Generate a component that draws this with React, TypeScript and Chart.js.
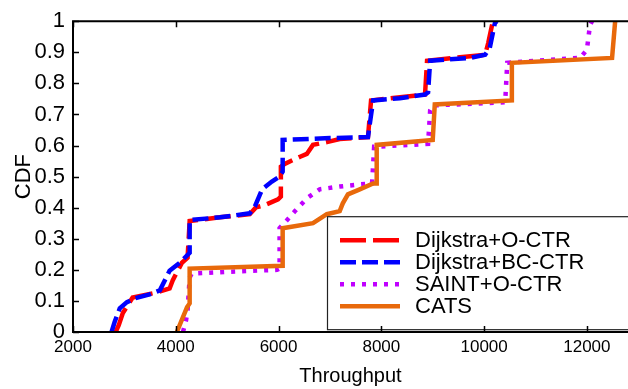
import React, { useEffect, useRef } from "react";
import { Chart, registerables } from "chart.js";

Chart.register(...registerables);

const xTicks = [2000, 4000, 6000, 8000, 10000, 12000];
const yTicks = [0, 0.1, 0.2, 0.3, 0.4, 0.5, 0.6, 0.7, 0.8, 0.9, 1];
const xMin = 2000;
const xMax = 12800;

const seriesLabels = ["Dijkstra+O-CTR", "Dijkstra+BC-CTR", "SAINT+O-CTR", "CATS"];

const redX = [2830, 2890, 2970, 3160, 3630, 3880, 3940, 4120, 4230, 4270, 4860, 5440, 5560, 5730, 5990, 6045, 6045, 6120, 6420, 6550, 6670, 6940, 7190, 7740, 7800, 8850, 8890, 10020, 10080, 10170];
const redY = [0, 0.022, 0.061, 0.111, 0.127, 0.14, 0.166, 0.223, 0.239, 0.357, 0.369, 0.379, 0.401, 0.408, 0.427, 0.436, 0.532, 0.541, 0.564, 0.573, 0.602, 0.611, 0.621, 0.627, 0.745, 0.764, 0.873, 0.892, 0.93, 1];

const blueX = [2750, 2810, 2910, 3050, 3200, 3490, 3690, 3880, 4080, 4270, 4270, 4860, 5440, 5540, 5680, 5870, 6020, 6080, 6080, 7000, 7740, 7840, 8360, 8850, 8910, 8950, 9720, 10020, 10110, 10210, 10250];
const blueY = [0, 0.032, 0.076, 0.096, 0.108, 0.121, 0.134, 0.197, 0.223, 0.255, 0.36, 0.369, 0.382, 0.404, 0.459, 0.484, 0.5, 0.516, 0.618, 0.624, 0.627, 0.745, 0.752, 0.764, 0.771, 0.873, 0.882, 0.892, 0.914, 0.994, 1];

const purpleX = [4140, 4200, 4230, 4270, 4310, 5050, 5970, 6020, 6020, 6180, 6320, 6550, 6800, 7190, 7580, 7820, 7860, 8910, 8950, 9000, 10410, 10450, 11870, 12000, 12060, 12100];
const purpleY = [0, 0.038, 0.07, 0.175, 0.188, 0.194, 0.2, 0.204, 0.334, 0.363, 0.389, 0.43, 0.459, 0.468, 0.475, 0.478, 0.596, 0.605, 0.713, 0.729, 0.739, 0.866, 0.882, 0.908, 0.987, 1];

const orangeX = [4020, 4220, 4270, 4270, 6080, 6080, 6670, 6940, 7190, 7250, 7350, 7580, 7840, 7910, 7910, 9000, 9040, 10540, 10540, 12490, 12550];
const orangeY = [0, 0.08, 0.092, 0.204, 0.213, 0.334, 0.35, 0.379, 0.389, 0.414, 0.443, 0.459, 0.478, 0.478, 0.602, 0.618, 0.732, 0.745, 0.866, 0.882, 1];

const FONT = "'Liberation Sans', Arial, Helvetica, sans-serif";

const styles = [
  { color: "#ff0000", dash: [26, 7], width: 4.5 },
  { color: "#0000ff", dash: [16, 6], width: 4.5 },
  { color: "#c000ff", dash: [4, 7], width: 4.5 },
  { color: "#e8690b", dash: [] as number[], width: 4.5 },
];

const toPoints = (xs: number[], ys: number[]) => xs.map((x, i) => ({ x, y: ys[i] }));

const framePlugin = {
  id: "frameAndLegend",
  afterDatasetsDraw(chart: any) {
    const { ctx, chartArea: a } = chart;
    ctx.save();
    const bx = a.left + 254;
    const by = a.top + 195;
    const bw = a.right - bx + 5;
    const bh = 113;
    ctx.fillStyle = "#ffffff";
    ctx.fillRect(bx, by, bw, bh);
    ctx.strokeStyle = "#222222";
    ctx.lineWidth = 1.2;
    ctx.strokeRect(bx + 0.5, by + 0.5, bw, bh);
    const rowY0 = by + 24;
    const rowH = 22;
    chart.data.datasets.forEach((ds: any, i: number) => {
      const y = rowY0 + i * rowH;
      ctx.beginPath();
      ctx.setLineDash(ds.borderDash || []);
      ctx.lineCap = "butt";
      ctx.strokeStyle = ds.borderColor;
      ctx.lineWidth = ds.borderWidth;
      ctx.moveTo(bx + 13, y);
      ctx.lineTo(bx + 73, y);
      ctx.stroke();
      ctx.setLineDash([]);
      ctx.fillStyle = "#000000";
      ctx.font = `22px ${FONT}`;
      ctx.textAlign = "left";
      ctx.textBaseline = "middle";
      ctx.fillText(ds.label, bx + 88, y + 1);
    });
    ctx.restore();
  },
  afterDraw(chart: any) {
    const { ctx, chartArea: a, scales } = chart;
    ctx.save();
    ctx.strokeStyle = "#000000";
    ctx.lineWidth = 2;
    ctx.setLineDash([]);
    ctx.beginPath();
    ctx.moveTo(a.right + 2, a.top);
    ctx.lineTo(a.left, a.top);
    ctx.lineTo(a.left, a.bottom);
    ctx.lineTo(a.right + 2, a.bottom);
    ctx.stroke();
    ctx.lineWidth = 1.5;
    ctx.beginPath();
    xTicks.forEach((v) => {
      const px = Math.round(scales.x.getPixelForValue(v)) + 0.5;
      ctx.moveTo(px, a.bottom);
      ctx.lineTo(px, a.bottom - 6);
      ctx.moveTo(px, a.top);
      ctx.lineTo(px, a.top + 6);
    });
    yTicks.forEach((v) => {
      const py = Math.round(scales.y.getPixelForValue(v)) + 0.5;
      ctx.moveTo(a.left, py);
      ctx.lineTo(a.left + 6, py);
    });
    ctx.stroke();
    ctx.restore();
  },
};

export default function App() {
  const ref = useRef<HTMLCanvasElement>(null);
  useEffect(() => {
    document.body.style.margin = "0";
    const allX = [redX, blueX, purpleX, orangeX];
    const allY = [redY, blueY, purpleY, orangeY];
    const chart = new Chart(ref.current as HTMLCanvasElement, {
      type: "line",
      data: {
        datasets: seriesLabels.map((label, i) => ({
          label,
          data: toPoints(allX[i], allY[i]),
          borderColor: styles[i].color,
          backgroundColor: styles[i].color,
          borderWidth: styles[i].width,
          borderDash: styles[i].dash,
          borderCapStyle: "butt",
          borderJoinStyle: "miter",
          pointRadius: 0,
          tension: 0,
          fill: false,
          order: 4 - i,
        })),
      },
      options: {
        responsive: false,
        animation: false,
        devicePixelRatio: 1,
        layout: { padding: { top: 18, right: 0, left: 0, bottom: 0 } },
        plugins: { legend: { display: false }, tooltip: { enabled: false } },
        scales: {
          x: {
            type: "linear",
            min: xMin,
            max: xMax,
            afterBuildTicks: (s: any) => {
              s.ticks = xTicks.map((v) => ({ value: v }));
            },
            afterFit: (s: any) => {
              s.height = 57;
            },
            grid: { display: false, drawTicks: false },
            border: { display: false },
            ticks: {
              color: "#000",
              font: { family: FONT, size: 17 },
              padding: 5,
              maxRotation: 0,
              autoSkip: false,
              callback: (v: any) => String(v),
            },
            title: {
              display: true,
              text: "Throughput",
              color: "#000",
              font: { family: FONT, size: 20 },
              padding: { top: 0, bottom: 1 },
            },
          },
          y: {
            type: "linear",
            min: 0,
            max: 1,
            afterBuildTicks: (s: any) => {
              s.ticks = yTicks.map((v) => ({ value: v }));
            },
            afterFit: (s: any) => {
              s.width = 73;
            },
            grid: { display: false, drawTicks: false },
            border: { display: false },
            ticks: {
              color: "#000",
              font: { family: FONT, size: 22 },
              padding: 8,
              autoSkip: false,
              callback: (v: any) => String(Number(Number(v).toFixed(1))),
            },
            title: {
              display: true,
              text: "CDF",
              color: "#000",
              font: { family: FONT, size: 22 },
              padding: { top: 11, bottom: 0 },
            },
          },
        },
      },
      plugins: [framePlugin],
    } as any);
    return () => chart.destroy();
  }, []);
  return (
    <div style={{ width: 628, height: 389 }}>
      <canvas ref={ref} width={628} height={389} style={{ display: "block" }} />
    </div>
  );
}
